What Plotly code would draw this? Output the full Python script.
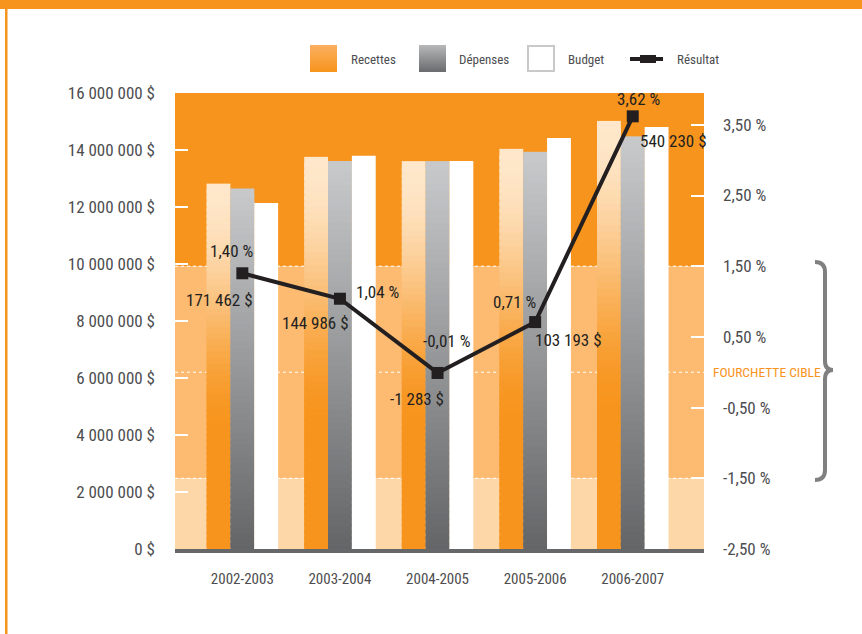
import plotly.graph_objects as go

# ---- data -------------------------------------------------------------
seasons = ["2002-2003", "2003-2004", "2004-2005", "2005-2006", "2006-2007"]
recettes = [12_820_000, 13_760_000, 13_610_000, 14_040_000, 15_020_000]
depenses = [12_650_000, 13_615_000, 13_611_000, 13_937_000, 14_480_000]
budget = [12_140_000, 13_800_000, 13_610_000, 14_420_000, 14_810_000]
resultat_pct = [1.40, 1.04, -0.01, 0.71, 3.62]
resultat_usd = [171_462, 144_986, -1_283, 103_193, 540_230]

money_ticks = [0, 2_000_000, 4_000_000, 6_000_000, 8_000_000,
               10_000_000, 12_000_000, 14_000_000, 16_000_000]
pct_ticks = [-2.5, -1.5, -0.5, 0.5, 1.5, 2.5, 3.5]
target_band = [-1.5, 1.5]
target_mid = 0.0


def fr_money(v):
    return f"{v:,}".replace(",", " ") + " $"


def fr_pct(p):
    return f"{p:.2f}".replace(".", ",") + " %"


money_ticktext = [fr_money(v) for v in money_ticks]
pct_ticktext = [fr_pct(p) for p in pct_ticks]

# ---- styling ----------------------------------------------------------
FONT = "Roboto Condensed, Liberation Sans Narrow, Open Sans Condensed, Arial Narrow, DejaVu Sans Condensed, sans-serif"
TXT = "#4d4d4f"
DARK = "#231f20"
ORANGE = "#f7941d"
MID_BAND = "#fdbb72"
LOW_BAND = "#fdd7a8"

W, H = 862, 634
L, R, T, B = 175, 158, 93, 85
PW, PH = W - L - R, H - T - B
Y2_RANGE = [-2.5, 3.95]


def px_x(x):
    return (x - L) / PW


def px_y(y):
    return (T + PH - y) / PH


def hex2rgb(h):
    h = h.lstrip("#")
    return tuple(int(h[i:i + 2], 16) for i in (0, 2, 4))


def mix(c1, c2, t):
    a, b = hex2rgb(c1), hex2rgb(c2)
    return "rgb({},{},{})".format(*[round(a[i] + (b[i] - a[i]) * t) for i in range(3)])


def smooth(t):
    return t * t * (3 - 2 * t)


fig = go.Figure()

# gradient bars: each bar is drawn as a stack of overlapping slices of its own value
N_SEG = 60
series = [
    ("recettes", recettes, "#fee7ca", ORANGE, 0.68),
    ("depenses", depenses, "#c8c9cb", "#636466", 1.0),
]
for name, vals, top_c, bot_c, reach in series:
    for k in range(N_SEG):
        f_top = 1 - (k + 0.5) / N_SEG  # 0 at bar top, 1 at bar bottom
        t = min(1.0, f_top / reach)
        col = mix(top_c, bot_c, smooth(t) if reach < 1 else t)
        lo = max(0.0, k - 0.6)
        fig.add_trace(go.Bar(
            x=seasons,
            y=[v * (k + 1 - lo) / N_SEG for v in vals],
            base=[v * lo / N_SEG for v in vals],
            offsetgroup=name,
            marker=dict(color=col, line=dict(width=0)),
            showlegend=False,
            hoverinfo="skip",
        ))

fig.add_trace(go.Bar(
    x=seasons, y=budget, offsetgroup="budget",
    marker=dict(color="white", line=dict(width=0)),
    showlegend=False, name="Budget",
))

# result line on the percentage axis
fig.add_trace(go.Scatter(
    x=seasons, y=resultat_pct, yaxis="y2", mode="lines+markers",
    line=dict(color=DARK, width=4),
    marker=dict(symbol="square", size=12, color=DARK),
    showlegend=False, name="Résultat",
))

# value labels around each point (pixel offsets)
pct_offsets = [(-11, 22), (38, 7), (9, 32), (-21, 20), (6, 17)]
usd_offsets = [(-23, -27), (-24, -24), (-21, -26), (33, -18), (41, -25)]
annotations = []
for i, s in enumerate(seasons):
    annotations.append(dict(
        x=s, y=resultat_pct[i], xref="x", yref="y2", text=fr_pct(resultat_pct[i]),
        showarrow=False, xshift=pct_offsets[i][0], yshift=pct_offsets[i][1],
        font=dict(family=FONT, size=17, color=DARK)))
    annotations.append(dict(
        x=s, y=resultat_pct[i], xref="x", yref="y2", text=fr_money(resultat_usd[i]),
        showarrow=False, xshift=usd_offsets[i][0], yshift=usd_offsets[i][1],
        font=dict(family=FONT, size=17, color=DARK)))

# target range caption
annotations.append(dict(
    x=px_x(711), y=target_mid, xref="paper", yref="y2", text="FOURCHETTE CIBLE",
    xanchor="left", yanchor="middle", showarrow=False,
    font=dict(family=FONT, size=13.5, color=ORANGE)))

shapes = []
# background bands (percentage scale)
shapes.append(dict(type="rect", xref="paper", yref="y2", x0=0, x1=1,
                   y0=target_band[1], y1=Y2_RANGE[1], fillcolor=ORANGE,
                   line=dict(width=0), layer="below"))
shapes.append(dict(type="rect", xref="paper", yref="y2", x0=0, x1=1,
                   y0=target_band[0], y1=target_band[1], fillcolor=MID_BAND,
                   line=dict(width=0), layer="below"))
shapes.append(dict(type="rect", xref="paper", yref="y2", x0=0, x1=1,
                   y0=Y2_RANGE[0], y1=target_band[0], fillcolor=LOW_BAND,
                   line=dict(width=0), layer="below"))
for lvl in [target_band[0], target_mid, target_band[1]]:
    shapes.append(dict(type="line", xref="paper", yref="y2", x0=0, x1=1,
                       y0=lvl, y1=lvl, line=dict(color="white", width=1, dash="dot"),
                       layer="below"))

# page frame
shapes.append(dict(type="rect", xref="paper", yref="paper",
                   x0=px_x(0), x1=px_x(W), y0=px_y(9), y1=px_y(0),
                   fillcolor=ORANGE, line=dict(width=0)))
shapes.append(dict(type="rect", xref="paper", yref="paper",
                   x0=px_x(5), x1=px_x(7.5), y0=px_y(H), y1=px_y(9),
                   fillcolor=ORANGE, line=dict(width=0)))


# curly brace beside the target range
def P(x, y):
    return f"{px_x(x):.5f},{px_y(y):.5f}"


brace = ("M " + P(815, 262) + " Q " + P(825, 262) + " " + P(825, 272) +
         " L " + P(825, 361) + " Q " + P(825, 370) + " " + P(833, 370) +
         " Q " + P(825, 370) + " " + P(825, 379) +
         " L " + P(825, 470) + " Q " + P(825, 480) + " " + P(815, 480))
shapes.append(dict(type="path", xref="paper", yref="paper", path=brace,
                   line=dict(color="#808080", width=4)))

# custom legend
legend_y0, legend_y1 = 45, 72


def grad_square(x0, x1, top_c, bot_c, n=14):
    h = (legend_y1 - legend_y0) / n
    for j in range(n):
        col = mix(top_c, bot_c, (j + 0.5) / n)
        y_bot = min(legend_y1, legend_y0 + (j + 1) * h + 1.2)
        shapes.append(dict(type="rect", xref="paper", yref="paper",
                           x0=px_x(x0), x1=px_x(x1),
                           y0=px_y(y_bot),
                           y1=px_y(legend_y0 + j * h),
                           fillcolor=col, line=dict(width=0)))


grad_square(310, 337, "#fbb061", ORANGE)
grad_square(419, 446, "#b7b8ba", "#6a6b6d")
shapes.append(dict(type="rect", xref="paper", yref="paper",
                   x0=px_x(528), x1=px_x(554), y0=px_y(71), y1=px_y(46),
                   fillcolor="white", line=dict(color="#c8c9cb", width=2)))
shapes.append(dict(type="line", xref="paper", yref="paper",
                   x0=px_x(630), x1=px_x(663), y0=px_y(59), y1=px_y(59),
                   line=dict(color=DARK, width=4)))
shapes.append(dict(type="rect", xref="paper", yref="paper",
                   x0=px_x(640), x1=px_x(656), y0=px_y(63), y1=px_y(55),
                   fillcolor=DARK, line=dict(width=0)))

for label, x in [("Recettes", 349), ("Dépenses", 457), ("Budget", 566), ("Résultat", 675)]:
    annotations.append(dict(
        x=px_x(x), y=px_y(59), xref="paper", yref="paper", text=label,
        xanchor="left", yanchor="middle", showarrow=False,
        font=dict(family=FONT, size=13, color=TXT)))

fig.update_layout(
    width=W, height=H,
    margin=dict(l=L, r=R, t=T, b=B, pad=0),
    paper_bgcolor="white", plot_bgcolor="rgba(0,0,0,0)",
    barmode="group", bargap=0.267, bargroupgap=0,
    font=dict(family=FONT, color=TXT),
    showlegend=False,
    shapes=shapes, annotations=annotations,
    xaxis=dict(
        type="category", range=[-0.69, 4.73],
        showgrid=False, zeroline=False,
        showline=True, linecolor="#666769", linewidth=4,
        ticks="", ticklabelstandoff=13,
        tickfont=dict(family=FONT, size=15, color=TXT),
    ),
    yaxis=dict(
        range=[0, 16_000_000], tickvals=money_ticks, ticktext=money_ticktext,
        showgrid=False, zeroline=False, showline=False,
        ticks="inside", ticklen=13, tickwidth=2, tickcolor="white",
        ticklabelstandoff=19,
        tickfont=dict(family=FONT, size=17, color=TXT),
    ),
    yaxis2=dict(
        overlaying="y", side="right", range=Y2_RANGE,
        tickvals=pct_ticks, ticktext=pct_ticktext,
        showgrid=False, zeroline=False, showline=False,
        ticks="inside", ticklen=13, tickwidth=2, tickcolor="white",
        ticklabelstandoff=18,
        tickfont=dict(family=FONT, size=17, color=TXT),
    ),
)

fig.write_html("out.html")
